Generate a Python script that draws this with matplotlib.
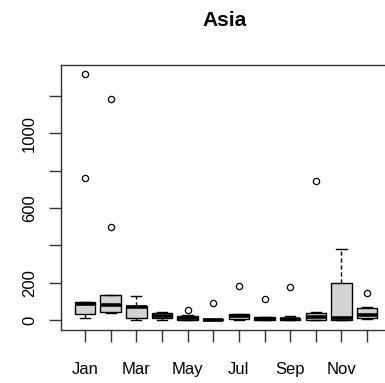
import matplotlib
matplotlib.use("Agg")
import matplotlib.pyplot as plt

plt.rcParams['font.family'] = ['Liberation Sans', 'DejaVu Sans']

# boxplot stats per month
months = ["Jan", "Feb", "Mar", "Apr", "May", "Jun",
          "Jul", "Aug", "Sep", "Oct", "Nov", "Dec"]
whislo = [14, 36, 0, 0, 0, 0, 2, 0, 0, 0, 0, 5]
q1 = [32, 46, 14, 9, 0, 0, 5, 0, 0, 0, 0, 9]
med = [88, 82, 70, 23, 11, 3, 20, 8, 5, 16, 10, 27]
q3 = [99, 135, 77, 36, 23, 8, 35, 15, 14, 36, 198, 63]
whishi = [99, 135, 127, 46, 28, 8, 35, 15, 23, 46, 380, 71]
outliers = [[1315, 760], [1183, 497], [], [], [53], [91],
            [184], [112], [176], [745], [], [143]]

stats = []
for i in range(len(months)):
    stats.append(dict(label=months[i], whislo=whislo[i], q1=q1[i], med=med[i],
                      q3=q3[i], whishi=whishi[i], fliers=outliers[i]))

fig = plt.figure(figsize=(3.85, 3.83), dpi=100)
ax = fig.add_axes([61/385, 53/383, 330/385, 265.5/383])

ax.bxp(stats, positions=range(1, 13), widths=0.8, patch_artist=True,
       capwidths=0.4,
       boxprops=dict(facecolor="#d3d3d3", edgecolor="black", linewidth=1.0),
       medianprops=dict(color="black", linewidth=2.6),
       whiskerprops=dict(color="black", linewidth=1.0, linestyle=(0, (3, 2))),
       capprops=dict(color="black", linewidth=1.0),
       flierprops=dict(marker="o", markersize=4.5, markerfacecolor="none",
                       markeredgecolor="black", markeredgewidth=0.9))

ax.set_xlim(0.065, 12.93)
ax.set_ylim(-52.6, 1367.6)

ax.set_xticks(range(1, 13))
ax.set_xticklabels([m if i % 2 == 0 else "" for i, m in enumerate(months)])
yt = [0, 200, 400, 600, 800, 1000, 1200]
ax.set_yticks(yt)
ax.set_yticklabels([str(v) if v in (0, 200, 600, 1000) else "" for v in yt],
                   rotation=90, va="center")

ax.tick_params(axis="both", length=8.3, width=1.0, color="#333333",
               labelsize=12, labelcolor="black")
ax.tick_params(axis="x", pad=14.5)
ax.tick_params(axis="y", pad=9)

for s in ["left", "top", "bottom"]:
    ax.spines[s].set_color("#333333")
    ax.spines[s].set_linewidth(1.0)
ax.spines["right"].set_visible(False)

fig.text(225/385, 1 - 20.5/383, "Asia", ha="center", va="center",
         fontsize=15, fontweight="bold")

fig.savefig("out.png", dpi=100)
